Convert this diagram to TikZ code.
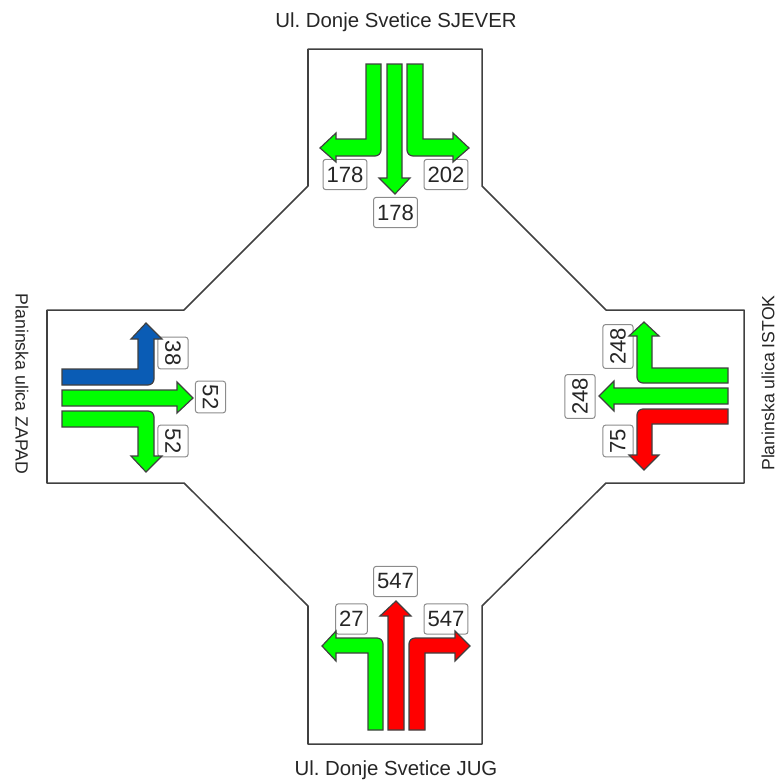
\documentclass[tikz,border=0pt]{standalone}
\usepackage{fontspec}
\setmainfont{Liberation Sans}
\definecolor{lanegreen}{RGB}{0,255,0}
\definecolor{lanered}{RGB}{255,0,0}
\definecolor{laneblue}{RGB}{10,92,181}
\tikzset{
  lane/.style={draw=black!75,line width=1.2pt,line join=miter},
  greenlane/.style={lane,fill=lanegreen},
  redlane/.style={lane,fill=lanered},
  bluelane/.style={lane,fill=laneblue},
  valbox/.style={draw=black!45,fill=white,line width=1pt,rounded corners=2.5pt,
    inner xsep=3.5pt,inner ysep=0pt,minimum height=30pt,text=black!85,
    font=\fontsize{22}{22}\selectfont},
  streetlabel/.style={inner sep=0pt,text=black!85,font=\fontsize{20.3}{20.3}\selectfont},
  sidelabel/.style={inner sep=0pt,text=black!85,font=\fontsize{17.6}{17.6}\selectfont}
}
\begin{document}
\begin{tikzpicture}[scale=0.35]
\useasboundingbox (0,0) rectangle (77.9,-78.2);
\draw [black!75,line width=1.5pt,line join=round] (30.8,-4.9) -- (48.2,-4.9) -- (48.2,-18.6) -- (60.6,-31) -- (74.4,-31) -- (74.4,-48.3) -- (60.6,-48.3) -- (48.2,-60.6) -- (48.2,-74.4) -- (30.8,-74.4) -- (30.8,-60.6) -- (18.4,-48.3) -- (4.7,-48.3) -- (4.7,-31) -- (18.4,-31) -- (30.8,-18.6) -- cycle;
% street names
\node [streetlabel] (sjever) at (39.6,-2.2) {Ul.\ Donje Svetice SJEVER};
\node [streetlabel] (jug) at (39.6,-77) {Ul.\ Donje Svetice JUG};
\node [sidelabel,rotate=-90] (zapad) at (2.2,-38.4) {Planinska ulica ZAPAD};
\node [sidelabel,rotate=90] (istok) at (76.8,-38.3) {Planinska ulica ISTOK};
% values
\node [valbox] (n1) at (34.5,-17.45) {178};
\node [valbox] (n2) at (39.55,-21.25) {178};
\node [valbox] (n3) at (44.6,-17.45) {202};
\node [valbox,rotate=-90] (w1) at (17.3,-35.3) {38};
\node [valbox,rotate=-90] (w2) at (21.05,-39.7) {52};
\node [valbox,rotate=-90] (w3) at (17.3,-44.1) {52};
\node [valbox,rotate=90] (e1) at (61.8,-34.65) {248};
\node [valbox,rotate=90] (e2) at (58,-39.65) {248};
\node [valbox,rotate=90] (e3) at (61.8,-44.1) {75};
\node [valbox] (s1) at (35.15,-61.9) {27};
\node [valbox] (s2) at (39.55,-58.15) {547};
\node [valbox] (s3) at (44.6,-61.9) {547};
% north
\draw [greenlane] (36.6,-6.4) -- (36.6,-13.9) -- (33.6,-13.9) -- (33.6,-13.3) -- (32,-14.8) -- (33.6,-16.2) -- (33.6,-15.6) [rounded corners=6pt] -- (38.1,-15.6) [sharp corners] -- (38.1,-6.4) -- cycle;
\draw [greenlane] (38.7,-6.4) -- (38.7,-17.8) -- (37.9,-17.8) -- (39.5,-19.4) -- (41,-17.8) -- (40.2,-17.8) -- (40.2,-6.4) -- cycle;
\draw [greenlane] (42.3,-6.4) -- (42.3,-13.9) -- (45.3,-13.9) -- (45.3,-13.3) -- (46.9,-14.8) -- (45.3,-16.2) -- (45.3,-15.6) [rounded corners=6pt] -- (40.7,-15.6) [sharp corners] -- (40.7,-6.4) -- cycle;
% west
\draw [bluelane] (6.2,-36.9) -- (13.8,-36.9) -- (13.8,-33.9) -- (13.1,-33.9) -- (14.6,-32.3) -- (16.2,-33.9) -- (15.4,-33.9) [rounded corners=6pt] -- (15.4,-38.5) [sharp corners] -- (6.2,-38.5) -- cycle;
\draw [greenlane] (6.2,-39) -- (17.7,-39) -- (17.7,-38.2) -- (19.3,-39.8) -- (17.7,-41.3) -- (17.7,-40.6) -- (6.2,-40.6) -- cycle;
\draw [greenlane] (6.2,-42.7) -- (13.8,-42.7) -- (13.8,-45.6) -- (13.1,-45.6) -- (14.6,-47.2) -- (16.2,-45.6) -- (15.4,-45.6) [rounded corners=6pt] -- (15.4,-41.1) [sharp corners] -- (6.2,-41.1) -- cycle;
% east
\draw [greenlane] (72.8,-36.8) -- (65.2,-36.8) -- (65.2,-33.6) -- (65.9,-33.6) -- (64.4,-32.2) -- (62.9,-33.6) -- (63.7,-33.6) [rounded corners=6pt] -- (63.7,-38.3) [sharp corners] -- (72.8,-38.3) -- cycle;
\draw [greenlane] (72.8,-38.8) -- (61.4,-38.8) -- (61.4,-38.1) -- (59.9,-39.6) -- (61.4,-41.1) -- (61.4,-40.4) -- (72.8,-40.4) -- cycle;
\draw [redlane] (72.8,-42.4) -- (65.2,-42.4) -- (65.2,-45.5) -- (65.9,-45.5) -- (64.4,-47) -- (62.9,-45.5) -- (63.7,-45.5) [rounded corners=6pt] -- (63.7,-40.9) [sharp corners] -- (72.8,-40.9) -- cycle;
% south
\draw [greenlane] (36.8,-73) -- (36.8,-65.3) -- (33.6,-65.3) -- (33.6,-66.1) -- (32.2,-64.6) -- (33.6,-63.1) -- (33.6,-63.8) [rounded corners=6pt] -- (38.3,-63.8) [sharp corners] -- (38.3,-73) -- cycle;
\draw [redlane] (38.8,-73) -- (38.8,-61.6) -- (38,-61.6) -- (39.6,-60.1) -- (41.1,-61.6) -- (40.4,-61.6) -- (40.4,-73) -- cycle;
\draw [redlane] (42.5,-73) -- (42.5,-65.3) -- (45.5,-65.3) -- (45.5,-66.1) -- (47,-64.6) -- (45.5,-63.1) -- (45.5,-63.8) [rounded corners=6pt] -- (40.9,-63.8) [sharp corners] -- (40.9,-73) -- cycle;
\end{tikzpicture}
\end{document}
